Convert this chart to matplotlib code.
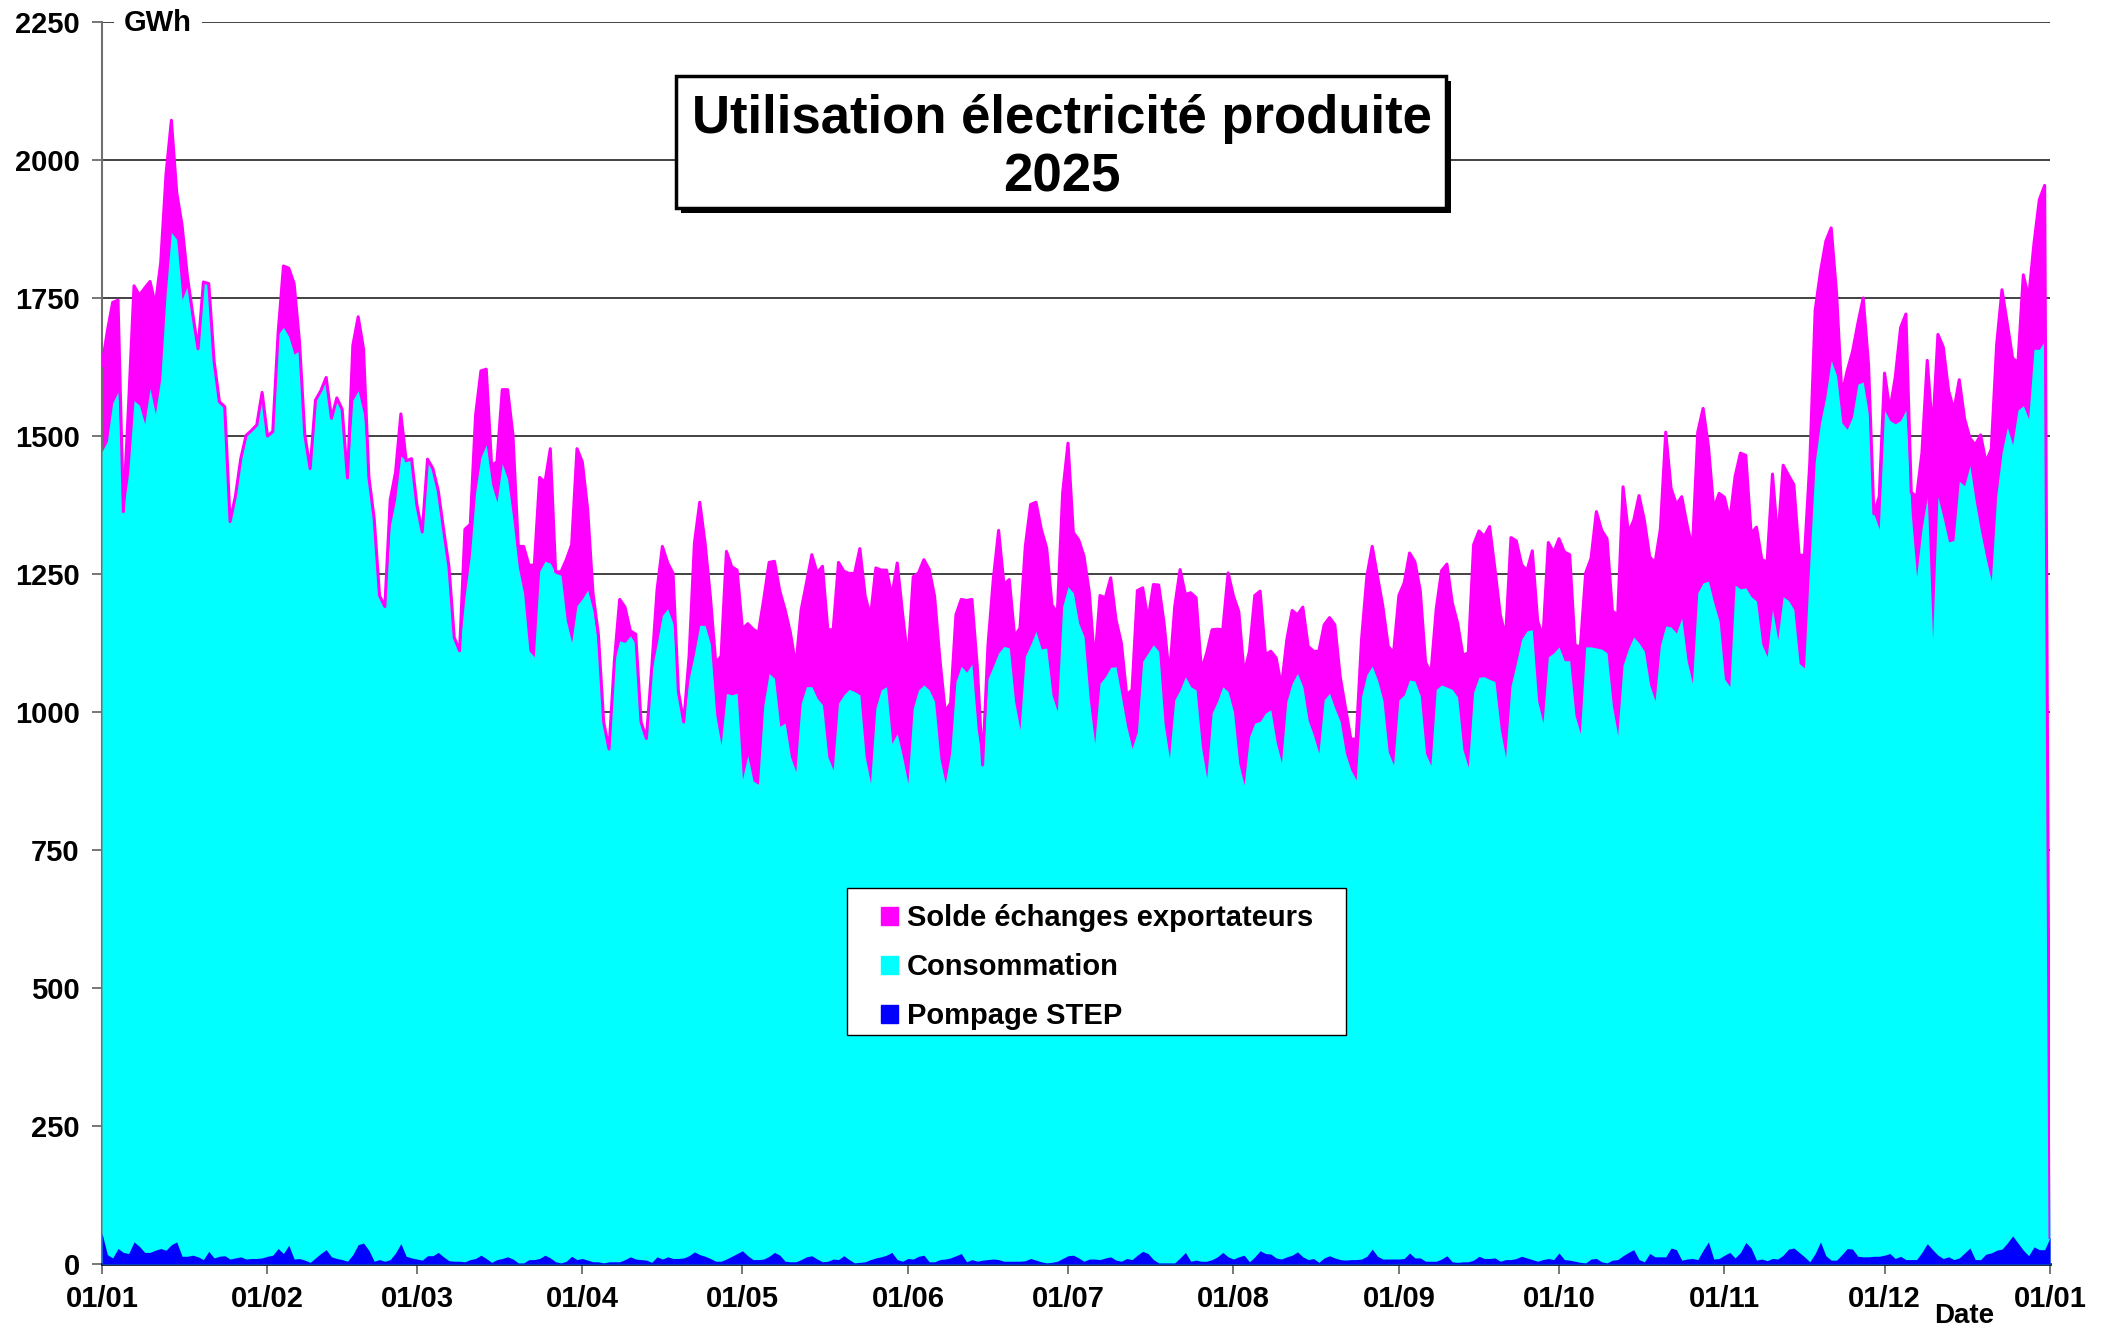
import numpy as np
import matplotlib
matplotlib.use('Agg')
import matplotlib.pyplot as plt
from matplotlib.patches import Rectangle, Patch

# dates affichees sous l'axe (jour de l'annee 2025)
mois_debut = [0, 31, 59, 90, 120, 151, 181, 212, 243, 273, 304, 334, 365]
mois_labels = ['01/01', '01/02', '01/03', '01/04', '01/05', '01/06', '01/07',
               '01/08', '01/09', '01/10', '01/11', '01/12', '01/01']

# haut de la zone magenta : production utilisee (GWh/jour)
production = [
    1628, 1690, 1742, 1746, 1363, 1561, 1772, 1755, 1768, 1780, 1738, 1814, 1975, 2072, 1941, 1882,
    1789, 1721, 1658, 1779, 1776, 1636, 1562, 1553, 1345, 1391, 1459, 1501, 1510, 1520, 1579,
    1500, 1508, 1687, 1808, 1804, 1776, 1671, 1502, 1441, 1565, 1582, 1606, 1532, 1569, 1548, 1424,
    1664, 1716, 1658, 1426, 1350, 1211, 1191, 1384, 1434, 1540, 1455, 1459,
    1375, 1326, 1458, 1441, 1401, 1331, 1264, 1135, 1111, 1331, 1340, 1538, 1618, 1621, 1447, 1453,
    1584, 1584, 1502, 1300, 1300, 1266, 1266, 1425, 1416, 1477, 1254, 1254, 1276, 1303, 1477,
    1453, 1367, 1215, 1141, 982, 933, 1092, 1204, 1190, 1147, 1141, 982, 952, 1080, 1221,
    1300, 1270, 1251, 1037, 982, 1100, 1306, 1380, 1306, 1208, 1089, 1101, 1291, 1263, 1257,
    1150, 1160, 1150, 1144, 1205, 1271, 1273, 1219, 1185, 1143, 1083, 1185, 1234, 1285, 1252, 1264,
    1149, 1149, 1271, 1255, 1251, 1251, 1296, 1210, 1173, 1261, 1257, 1257, 1210, 1270, 1179,
    1095, 1245, 1252, 1276, 1258, 1210, 1095, 1001, 1016, 1176, 1204, 1202, 1204, 1083, 904,
    1120, 1240, 1329, 1231, 1240, 1137, 1152, 1300, 1376, 1380, 1331, 1297, 1194, 1179, 1397,
    1487, 1325, 1312, 1282, 1216, 1089, 1211, 1207, 1243, 1167, 1125, 1031, 1040, 1220, 1225, 1167,
    1231, 1230, 1161, 1064, 1191, 1258, 1213, 1216, 1207, 1076, 1107, 1149, 1150, 1149, 1252,
    1210, 1182, 1070, 1110, 1211, 1219, 1104, 1110, 1098, 1046, 1131, 1184, 1176, 1190, 1119, 1110,
    1110, 1158, 1171, 1158, 1064, 1007, 951, 951, 1131, 1246, 1300, 1246, 1191, 1119, 1107,
    1211, 1234, 1288, 1272, 1220, 1090, 1070, 1187, 1256, 1268, 1198, 1161, 1103, 1107, 1303,
    1328, 1318, 1336, 1259, 1176, 1136, 1316, 1310, 1267, 1256, 1292, 1165, 1136, 1307, 1289,
    1314, 1290, 1285, 1121, 1118, 1252, 1278, 1363, 1329, 1314, 1183, 1176, 1408, 1325, 1347, 1392,
    1347, 1281, 1270, 1332, 1507, 1405, 1376, 1390, 1339, 1296, 1507, 1550, 1481, 1368, 1396,
    1389, 1347, 1427, 1469, 1465, 1323, 1335, 1276, 1272, 1431, 1312, 1447, 1429, 1412, 1284,
    1284, 1453, 1728, 1798, 1853, 1877, 1760, 1575, 1618, 1653, 1704, 1750, 1629, 1359, 1390,
    1614, 1547, 1606, 1696, 1721, 1398, 1390, 1469, 1637, 1508, 1684, 1661, 1582, 1547, 1602, 1531,
    1496, 1484, 1502, 1453, 1476, 1665, 1765, 1704, 1641, 1633, 1792, 1751, 1849, 1928, 1954,
    48,
]

# haut de la zone cyan : consommation
consommation = [
    1472, 1490, 1560, 1580, 1363, 1434, 1564, 1556, 1522, 1586, 1540, 1603, 1755, 1869, 1856, 1747,
    1772, 1721, 1658, 1779, 1776, 1636, 1562, 1553, 1345, 1391, 1459, 1501, 1510, 1520, 1579,
    1500, 1508, 1684, 1697, 1680, 1648, 1655, 1502, 1441, 1565, 1582, 1606, 1532, 1569, 1548, 1424,
    1565, 1582, 1540, 1426, 1350, 1211, 1191, 1337, 1384, 1464, 1455, 1459,
    1375, 1326, 1458, 1441, 1401, 1331, 1264, 1135, 1111, 1208, 1282, 1398, 1462, 1484, 1413, 1380,
    1450, 1422, 1349, 1263, 1215, 1111, 1100, 1255, 1273, 1270, 1251, 1248, 1166, 1126, 1193,
    1205, 1221, 1184, 1117, 982, 933, 1092, 1129, 1126, 1138, 1123, 982, 952, 1074, 1123,
    1175, 1187, 1160, 1037, 982, 1060, 1105, 1157, 1157, 1123, 995, 940, 1034, 1031, 1034,
    878, 921, 875, 869, 1012, 1070, 1061, 974, 980, 919, 892, 1016, 1046, 1046, 1025, 1013,
    919, 895, 1016, 1031, 1041, 1037, 1031, 919, 871, 1007, 1040, 1046, 943, 961, 919,
    871, 1007, 1040, 1049, 1040, 1019, 916, 871, 925, 1055, 1083, 1072, 1087, 968, 904,
    1060, 1083, 1107, 1119, 1116, 1019, 968, 1101, 1122, 1146, 1114, 1116, 1031, 1001, 1191,
    1227, 1216, 1161, 1137, 1022, 943, 1052, 1064, 1081, 1082, 1028, 974, 934, 964, 1092, 1107,
    1122, 1110, 980, 916, 1022, 1040, 1064, 1046, 1040, 937, 880, 998, 1019, 1046, 1037,
    1001, 907, 868, 955, 980, 983, 998, 1004, 946, 908, 1019, 1052, 1070, 1046, 985, 958,
    925, 1022, 1034, 1007, 983, 925, 895, 877, 1028, 1068, 1083, 1058, 1022, 928, 904,
    1022, 1031, 1058, 1056, 1030, 925, 903, 1041, 1049, 1045, 1041, 1027, 932, 900, 1036,
    1063, 1064, 1059, 1055, 969, 918, 1047, 1088, 1132, 1147, 1149, 1020, 980, 1100, 1107,
    1118, 1093, 1093, 994, 961, 1118, 1118, 1116, 1114, 1107, 1012, 958, 1085, 1114, 1136, 1125,
    1110, 1049, 1020, 1121, 1156, 1154, 1143, 1170, 1093, 1052, 1216, 1234, 1237, 1198, 1165,
    1060, 1046, 1230, 1223, 1225, 1209, 1201, 1123, 1100, 1186, 1131, 1209, 1202, 1186, 1088,
    1080, 1272, 1453, 1524, 1571, 1637, 1610, 1524, 1512, 1535, 1594, 1598, 1539, 1359, 1331,
    1547, 1528, 1522, 1528, 1547, 1359, 1245, 1331, 1390, 1132, 1390, 1351, 1308, 1311, 1418, 1410,
    1446, 1382, 1327, 1280, 1237, 1390, 1469, 1516, 1484, 1547, 1555, 1531, 1657, 1657, 1673,
    48,
]

# pompage des STEP (bas du graphique)
pompage = [
    56, 17, 11, 28, 21, 19, 40, 32, 21, 21, 25, 28, 25, 35, 40, 14, 14, 16, 13, 8, 23, 11, 14, 15, 9, 11, 13, 9, 10, 10, 11,
    14, 16, 28, 19, 34, 9, 10, 7, 3, 11, 19, 26, 13, 10, 8, 5, 17, 35, 38, 25, 5, 8, 5, 8, 20, 37, 14, 11,
    9, 7, 15, 15, 21, 13, 6, 5, 5, 4, 8, 10, 16, 10, 3, 8, 10, 13, 9, 2, 2, 8, 8, 10, 16, 11, 4, 2, 5, 14, 8,
    10, 7, 4, 4, 2, 4, 4, 4, 8, 13, 9, 8, 7, 3, 13, 9, 13, 10, 10, 11, 15, 22, 17, 14, 10, 5, 5, 9, 14, 19,
    24, 15, 8, 8, 9, 14, 21, 16, 5, 4, 4, 8, 13, 15, 9, 4, 5, 9, 8, 15, 8, 2, 3, 4, 8, 11, 13, 16, 21, 8, 5,
    10, 9, 14, 16, 4, 4, 8, 9, 11, 15, 19, 4, 8, 5, 7, 8, 9, 8, 5, 5, 5, 5, 6, 10, 7, 4, 2, 3, 5, 10,
    15, 16, 11, 5, 9, 9, 8, 11, 13, 7, 5, 10, 8, 16, 23, 19, 8, 2, 2, 2, 2, 11, 21, 5, 7, 5, 5, 8, 13, 21, 13,
    9, 13, 16, 4, 13, 24, 19, 18, 11, 9, 13, 16, 22, 13, 8, 10, 3, 11, 15, 11, 8, 7, 8, 8, 9, 14, 27, 14, 9, 9, 9,
    9, 10, 20, 11, 11, 5, 5, 5, 9, 15, 4, 3, 4, 4, 7, 14, 10, 10, 11, 5, 8, 8, 10, 14, 11, 8, 5, 8, 10, 8,
    20, 8, 7, 5, 3, 2, 9, 10, 4, 2, 7, 8, 15, 21, 26, 8, 4, 19, 13, 13, 13, 29, 26, 7, 9, 10, 8, 25, 40, 9, 10,
    16, 21, 11, 21, 39, 29, 7, 9, 6, 10, 9, 16, 27, 29, 21, 13, 4, 19, 40, 15, 7, 7, 17, 28, 27, 14, 13, 13, 14, 14,
    16, 19, 10, 14, 8, 8, 8, 21, 37, 26, 16, 10, 13, 8, 11, 20, 29, 8, 8, 18, 20, 25, 27, 38, 51, 38, 25, 15, 31, 26, 26,
    48,
]

legende = ['Solde échanges exportateurs', 'Consommation', 'Pompage STEP']
couleurs = ['#ff00ff', '#00ffff', '#0000ff']

W, H = 2115, 1333


def fig_rect(x0, y0, x1, y1):
    # pixels (origine en haut a gauche) -> coordonnees figure
    return (x0 / W, 1 - y1 / H), (x1 - x0) / W, (y1 - y0) / H


def main():
    plt.rcParams['font.family'] = ['Liberation Sans', 'DejaVu Sans']
    plt.rcParams['font.weight'] = 'bold'

    days = np.arange(len(production))
    fig = plt.figure(figsize=(W / 100, H / 100), dpi=100)
    ax = fig.add_axes([102 / W, 69 / H, (2050 - 102) / W, (1264 - 22) / H])

    ax.fill_between(days, 0, production, color=couleurs[0], lw=0, zorder=2)
    ax.fill_between(days, 0, consommation, color=couleurs[1], lw=0, zorder=3)
    ax.fill_between(days, 0, pompage, color=couleurs[2], lw=0, zorder=4)
    ax.plot(days, production, color=couleurs[0], lw=2.2, zorder=5)

    ax.set_xlim(0, 365)
    ax.set_ylim(0, 2250)
    ax.set_yticks(range(0, 2251, 250))
    ax.set_xticks(mois_debut)
    ax.set_xticklabels(mois_labels)
    ax.set_axisbelow(True)
    ax.yaxis.grid(True, color='#222222', lw=1.2)
    for side in ['top', 'right']:
        ax.spines[side].set_visible(False)
    ax.spines['left'].set_color('#707070')
    ax.spines['left'].set_linewidth(1.5)
    ax.spines['bottom'].set_color('#101030')
    ax.spines['bottom'].set_linewidth(2)
    ax.tick_params(axis='both', direction='out', length=7, width=1.2,
                   color='#606060', labelsize=21)
    ax.tick_params(axis='y', pad=9)
    ax.tick_params(axis='x', pad=8)

    fig.text(124 / W, 1 - 23 / H, 'GWh', fontsize=21, ha='left', va='center',
             bbox=dict(boxstyle='square,pad=0.35', fc='white', ec='none'))
    fig.text(1964 / W, 1 - 1316 / H, 'Date', fontsize=20, ha='center', va='center')

    # cadre du titre avec ombre
    xy, w, h = fig_rect(681, 81, 1451, 213)
    fig.add_artist(Rectangle(xy, w, h, transform=fig.transFigure, fc='black', ec='none', zorder=3))
    xy, w, h = fig_rect(676, 76, 1446, 208)
    fig.add_artist(Rectangle(xy, w, h, transform=fig.transFigure, fc='white', ec='black',
                             lw=2.5, zorder=4))
    fig.text(1062 / W, 1 - 119 / H, 'Utilisation électricité produite', fontsize=38,
             ha='center', va='center', zorder=5)
    fig.text(1062 / W, 1 - 178 / H, '2025', fontsize=38, ha='center', va='center', zorder=5)

    # legende
    xy, w, h = fig_rect(847, 888, 1346, 1035)
    fig.add_artist(Rectangle(xy, w, h, transform=fig.transFigure, fc='white', ec='black',
                             lw=1, zorder=3))
    handles = [Patch(color=c) for c in couleurs]
    leg = fig.legend(handles, legende, loc='upper left',
                     bbox_to_anchor=(861 / W, 1 - 884 / H), frameon=False,
                     fontsize=21, handlelength=0.57, handleheight=0.57,
                     handletextpad=0.3, labelspacing=0.72, borderpad=0.2)
    leg.set_zorder(5)

    fig.savefig('out.png', dpi=100)


if __name__ == '__main__':
    main()
